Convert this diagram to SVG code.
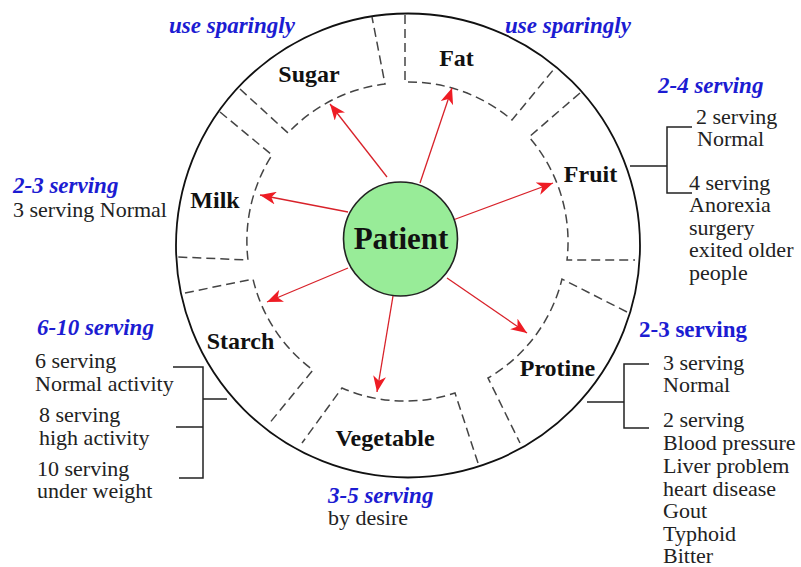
<svg xmlns="http://www.w3.org/2000/svg" width="801" height="567" viewBox="0 0 801 567">
<defs>
<style>
text{font-family:"Liberation Serif","Times New Roman",serif;}
.lbl{font-weight:bold;font-size:24px;fill:#111;text-anchor:middle;}
.blue{font-weight:bold;font-style:italic;font-size:23px;fill:#1c1cd2;}
.blueu{font-weight:bold;font-size:23px;fill:#1c1cd2;}
.txt{font-size:22px;fill:#222;}
.seg{fill:none;stroke:#444;stroke-width:1.5;stroke-dasharray:9 5;}
.br{fill:none;stroke:#222;stroke-width:1.5;}
.arr{stroke:#d8222a;stroke-width:1.3;fill:none;marker-end:url(#ah);}
</style>
<marker id="ah" markerUnits="userSpaceOnUse" markerWidth="17" markerHeight="13" refX="16" refY="6.5" orient="auto">
<path d="M0,0 L16,6.5 L0,13 L4.5,6.5 z" fill="#ee1c24"/>
</marker>
</defs>
<rect width="801" height="567" fill="#fff"/>

<g id="ring">
<circle cx="408" cy="245.5" r="232" fill="none" stroke="#111" stroke-width="1.8"/>
</g>

<g id="sugar">
<path class="seg" d="M240,89 L288,133 A160 160 0 0 1 385,84 L372,17"/>
<text class="lbl" x="309" y="82">Sugar</text>
<text class="blue" x="169" y="33">use sparingly</text>
</g>

<g id="fat">
<path class="seg" d="M405,15 L405,82 A160 160 0 0 1 512,120 L554,69"/>
<text class="lbl" x="456.5" y="66">Fat</text>
<text class="blue" x="505" y="33">use sparingly</text>
</g>

<g id="fruit">
<path class="seg" d="M580,93 L529,137 A160 160 0 0 1 567,260 L635,260"/>
<text class="lbl" x="590.5" y="182">Fruit</text>
<text class="blue" x="658" y="93">2-4 serving</text>
<path class="br" d="M630,166 H667 M692,127 H667 V193 H692"/>
<text class="txt" x="696" y="124">2 serving</text>
<text class="txt" x="697" y="146">Normal</text>
<text class="txt" x="689" y="190">4 serving</text>
<text class="txt" x="689" y="212">Anorexia</text>
<text class="txt" x="689" y="235">surgery</text>
<text class="txt" x="689" y="257">exited older</text>
<text class="txt" x="689" y="280">people</text>
</g>

<g id="protine">
<path class="seg" d="M627,312 L562,279 A158 158 0 0 1 488,378 L520,443"/>
<text class="lbl" x="557.5" y="376">Protine</text>
<text class="blueu" x="639" y="337">2-3 serving</text>
<path class="br" d="M587,402 H624 M649,364 H624 V428 H649"/>
<text class="txt" x="663" y="370">3 serving</text>
<text class="txt" x="663" y="392">Normal</text>
<text class="txt" x="663" y="427">2 serving</text>
<text class="txt" x="663" y="450">Blood pressure</text>
<text class="txt" x="663" y="473">Liver problem</text>
<text class="txt" x="663" y="496">heart disease</text>
<text class="txt" x="663" y="518">Gout</text>
<text class="txt" x="663" y="541">Typhoid</text>
<text class="txt" x="663" y="563">Bitter</text>
</g>

<g id="vegetable">
<path class="seg" d="M478,463 L455,393 A158 158 0 0 1 342,388 L302,443"/>
<text class="lbl" x="385" y="446">Vegetable</text>
<text class="blue" x="328" y="503">3-5 serving</text>
<text class="txt" x="328" y="525">by desire</text>
</g>

<g id="starch">
<path class="seg" d="M185,293 L253,279 A158 158 0 0 0 313,370 L268,425"/>
<text class="lbl" x="240.5" y="349">Starch</text>
<text class="blue" x="37" y="335">6-10 serving</text>
<path class="br" d="M173,367 H203 V478 H179 M176,427 H203 M203,399 H227"/>
<text class="txt" x="35" y="368">6 serving</text>
<text class="txt" x="35" y="391">Normal activity</text>
<text class="txt" x="39" y="422">8 serving</text>
<text class="txt" x="39" y="445">high activity</text>
<text class="txt" x="37" y="476">10 serving</text>
<text class="txt" x="37" y="498">under weight</text>
</g>

<g id="milk">
<path class="seg" d="M220,112 L272,155 A160 160 0 0 0 248,260 L178,257"/>
<text class="lbl" x="215" y="208">Milk</text>
<text class="blue" x="13" y="193">2-3 serving</text>
<text class="txt" x="13" y="217">3 serving Normal</text>
</g>

<g id="connectors">
<line class="arr" x1="387" y1="177" x2="330" y2="104"/>
<line class="arr" x1="420" y1="183" x2="452" y2="88"/>
<line class="arr" x1="453" y1="220" x2="553" y2="183"/>
<line class="arr" x1="348" y1="212" x2="260" y2="195"/>
<line class="arr" x1="348" y1="268" x2="267" y2="302"/>
<line class="arr" x1="393" y1="296" x2="377" y2="392"/>
<line class="arr" x1="447" y1="278" x2="527" y2="333"/>
</g>

<g id="patient">
<circle cx="400.5" cy="239" r="57" fill="#98ec98" stroke="#222" stroke-width="1.6"/>
<text x="401" y="249" text-anchor="middle" font-weight="bold" font-size="31" fill="#111">Patient</text>
</g>
</svg>
